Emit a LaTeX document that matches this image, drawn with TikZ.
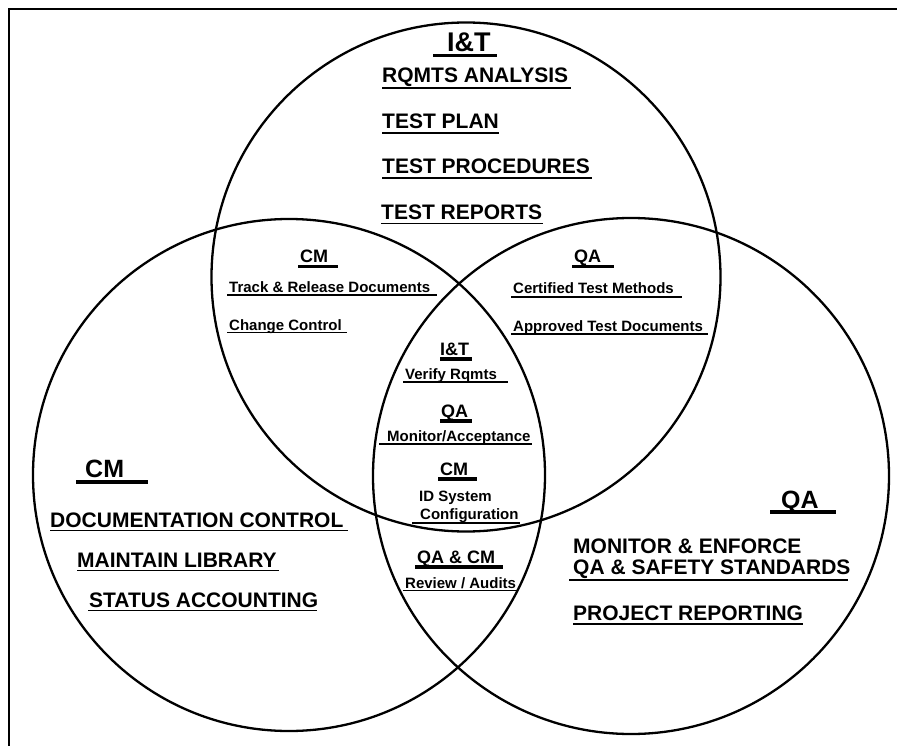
\documentclass[tikz,border=0pt]{standalone}
\usepackage{fontspec}
\setmainfont{Liberation Sans}
\newcommand{\fs}[1]{\fontsize{#1}{#1}\selectfont}
\tikzset{
  ring/.style={line width=2.3pt},
  frame/.style={line width=2.2pt},
  lbl/.style={inner sep=0pt, anchor=base west, font=\bfseries},
  big/.style={lbl, font=\bfseries\fs{21}},
  small/.style={lbl, font=\bfseries\fs{15}},
  head/.style={lbl, font=\bfseries\fs{25}},
  mhead/.style={lbl, font=\bfseries\fs{18}},
  ulthin/.style={line width=1.5pt},
  ulthick/.style={line width=3.8pt},
}
% underline from x1 to x2 at height y
\newcommand{\ulA}[3]{\draw[ulthin] (#1,#3) -- (#2,#3);}
\newcommand{\ulB}[3]{\draw[ulthick] (#1,#3) -- (#2,#3);}
\begin{document}
\begin{tikzpicture}[x=1pt,y=-1pt]
\useasboundingbox (0,0) rectangle (897,746);
% frame edges
\draw[frame] (9,746) -- (9,9) -- (897,9);

% the three circles
\coordinate (cIT) at (466,277);
\coordinate (cCM) at (289,475);
\coordinate (cQA) at (631,476);
\draw[ring] (cIT) circle (254.5);
\draw[ring] (cCM) circle (256);
\draw[ring] (cQA) circle (258);

% I&T
\node[lbl, font=\bfseries\fs{27}] (itHead) at (447,52) {I\&T};
\ulB{433}{497}{55.5}
\node[big] (rqmts) at (382,83) {RQMTS ANALYSIS};
\ulA{382}{571}{88}
\node[big] (plan) at (382,129) {TEST PLAN};
\ulA{382}{499}{133}
\node[big] (proc) at (382,174) {TEST PROCEDURES};
\ulA{382}{592}{178}
\node[big] (reps) at (381,220) {TEST REPORTS};
\ulA{381}{543}{223.5}

% I&T / CM overlap
\node[mhead] (cmL) at (300,262) {CM};
\ulB{298}{338}{266.5}
\node[small] (track) at (229,292) {Track \& Release Documents};
\ulA{227}{437}{295}
\node[small] (change) at (229,330) {Change Control};
\ulA{227}{347}{332.5}

% I&T / QA overlap
\node[mhead] (qaR) at (574,262) {QA};
\ulB{572}{614}{266.5}
\node[small] (cert) at (513,293) {Certified Test Methods};
\ulA{511}{682}{297}
\node[small] (appr) at (513,331) {Approved Test Documents};
\ulA{511}{708}{334}

% centre region
\node[mhead] (itC) at (440,355) {I\&T};
\ulB{440}{472}{359}
\node[small] (verify) at (405,379) {Verify Rqmts};
\ulA{403}{508}{382}
\node[mhead] (qaC) at (441,417) {QA};
\ulB{440}{472}{421}
\node[small] (monitor) at (387,441) {Monitor/Acceptance};
\ulA{379}{532}{444}
\node[mhead] (cmC) at (440,475) {CM};
\ulB{438}{477}{479}
\node[small] (idsys) at (419,501) {ID System};
\node[small] (config) at (420,519) {Configuration};
\ulA{412}{520}{523}

% CM / QA overlap
\node[mhead] (qacm) at (417,563) {QA \& CM};
\ulB{415}{503}{567}
\node[small] (review) at (405,588) {Review / Audits};
\ulA{403}{517}{590.5}

% CM
\node[head] (cmBig) at (85,477) {CM};
\ulB{76}{148}{482}
\node[big] (doc) at (50,527) {DOCUMENTATION CONTROL};
\ulA{50}{348}{530.5}
\node[big] (lib) at (77,567) {MAINTAIN LIBRARY};
\ulA{77}{279}{570.5}
\node[big] (status) at (89,607) {STATUS ACCOUNTING};
\ulA{88}{317}{610.5}

% QA
\node[head] (qaBig) at (781,508) {QA};
\ulB{770}{836}{512}
\node[big] (enf) at (573,553) {MONITOR \& ENFORCE};
\node[big] (safety) at (573,574) {QA \& SAFETY STANDARDS};
\ulA{569}{848}{580}
\node[big] (project) at (573,620) {PROJECT REPORTING};
\ulA{573}{803}{624}
\end{tikzpicture}
\end{document}
